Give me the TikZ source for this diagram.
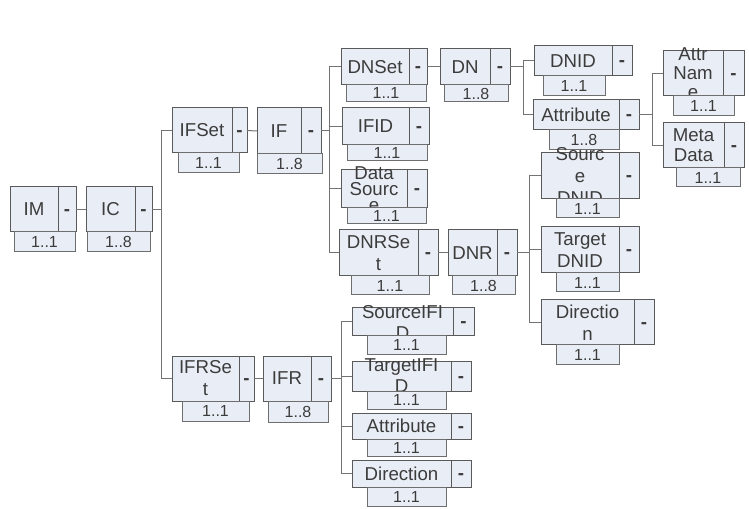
\documentclass[tikz,border=0pt]{standalone}
\usepackage{fontspec}
\setmainfont{Liberation Sans}
\definecolor{boxfill}{RGB}{233,238,246}
\definecolor{boxline}{RGB}{90,90,90}
\definecolor{multline}{RGB}{110,110,110}
\definecolor{txt}{RGB}{60,60,60}
\definecolor{linegray}{RGB}{115,115,115}
\tikzset{
  mainbox/.style={rectangle, draw=boxline, fill=boxfill, line width=0.75pt, inner sep=0pt, outer sep=0pt, anchor=north west},
  minusbox/.style={rectangle, draw=boxline, fill=boxfill, line width=0.75pt, inner sep=0pt, outer sep=0pt, anchor=north west, text=txt, font=\fontsize{14}{16}\selectfont\bfseries, text height=9pt, text depth=0pt},
  lbl/.style={inner sep=0pt, align=center, text=txt, font=\fontsize{14}{16.5}\selectfont},
  multbox/.style={rectangle, draw=multline, fill=boxfill, line width=0.75pt, inner sep=0pt, outer sep=0pt, anchor=north west, text=txt, font=\fontsize{12}{14}\selectfont},
  conn/.style={draw=linegray, line width=0.75pt}
}
% #1 name, #2 x, #3 y, #4 main width, #5 minus width, #6 height, #7 mult x, #8 mult width, #9 mult height
\newcommand\elem[9]{%
  \node[mainbox, minimum width=#4*0.75pt, minimum height=#6*0.75pt] (#1) at (#2,#3) {};
  \node[minusbox, minimum width=#5*0.75pt, minimum height=#6*0.75pt] (#1m) at (#1.north east) {-};
  \coordinate (#1cp) at (#7,#3+#6);
  \def\elemmw{#8}\def\elemmh{#9}\def\elemname{#1}%
  \elemfinish}
\newcommand\elemfinish[3][]{%
  \node[lbl,#1] (\elemname t) at (\elemname.center) {#2};
  \node[multbox, minimum width=\elemmw*0.75pt, minimum height=\elemmh*0.75pt] (\elemname c) at (\elemname cp) {#3};}
\begin{document}
\begin{tikzpicture}[x=0.75pt, y=-0.75pt]
\fill[white] (0,0) rectangle (749,509);
\useasboundingbox (0,0) rectangle (749,509);

\elem{IM}{10}{187}{48}{18}{45}{14}{61}{20}{IM}{1..1}
\elem{IC}{86}{187}{49}{17}{45}{87}{63}{20}{IC}{1..8}
\elem{IFSet}{172}{108}{60}{15}{45}{178}{61}{20}{IFSet}{1..1}
\elem{IF}{257}{108}{44}{20}{46}{257}{65}{20}{IF}{1..8}
\elem{IFRSet}{172}{356}{67}{15}{45}{182}{67}{20}{IFRSe\\t}{1..1}
\elem{IFR}{263}{356}{48}{20}{45}{268}{60}{21}{IFR}{1..8}
\elem{DNSet}{341}{49}{68}{18}{36}{346}{80}{17}{DNSet}{1..1}
\elem{IFID}{342}{108}{67}{20}{37}{347}{80}{16}{IFID}{1..1}
\elem{DataSource}{341}{170}{66}{20}{38}{347}{79}{16}[font=\fontsize{14}{12}\selectfont]{Data\\Sourc\\e}{1..1}
\elem{DNRSet}{339}{230}{79}{20}{46}{351}{78}{19}{DNRSe\\t}{1..1}
\elem{DN}{440}{49}{50}{20}{36}{444}{64}{17}{DN}{1..8}
\elem{DNR}{448}{230}{49}{20}{46}{452}{63}{19}{DNR}{1..8}
\elem{DNID}{534}{46}{78}{20}{30}{543}{62}{20}{DNID}{1..1}
\elem{AttrDN}{533}{100}{86}{20}{30}{549}{70}{20}{Attribute}{1..8}
\elem{AttrName}{663}{51}{60}{21}{45}{673}{61}{20}[font=\fontsize{14}{14.25}\selectfont]{Attr\\Nam\\e}{1..1}
\elem{MetaData}{663}{123}{61}{20}{45}{676}{64}{19}[font=\fontsize{14}{15}\selectfont]{Meta\\Data}{1..1}
\elem{SourceDNID}{541}{153}{78}{20}{46}{556}{63}{19}{Sourc\\e\\DNID}{1..1}
\elem{TargetDNID}{541}{227}{78}{20}{46}{556}{63}{19}{Target\\DNID}{1..1}
\elem{DirDNR}{541}{300}{93}{20}{45}{556}{63}{19}{Directio\\n}{1..1}
\elem{SourceIFID}{352}{308}{101}{21}{28}{367}{79}{18}[font=\fontsize{14}{15.75}\selectfont]{SourceIFI\\D}{1..1}
\elem{TargetIFID}{352}{361}{99}{20}{30}{367}{79}{18}[font=\fontsize{14}{15.75}\selectfont]{TargetIFI\\D}{1..1}
\elem{AttrIFR}{352}{413}{99}{20}{26}{367}{79}{17}{Attribute}{1..1}
\elem{DirIFR}{352}{460}{99}{20}{27}{367}{79}{19}{Direction}{1..1}

% connectors
\draw[conn] (IMm.east) -- (IC.west);
\draw[conn] (ICm.east) -- ++(9,0) |- (IFSet.west);
\draw[conn] (ICm.east) -- ++(9,0) |- (IFRSet.west);
\draw[conn] (IFSetm.east) -- (IF.west);
\draw[conn] (IFm.east) -- ++(8,0) |- (DNSet.west);
\draw[conn] (IFm.east) -- ++(8,0) |- (IFID.west);
\draw[conn] (IFm.east) -- ++(8,0) |- (DataSource.west);
\draw[conn] (IFm.east) -- ++(8,0) |- (DNRSet.west);
\draw[conn] (DNSetm.east) -- (DN.west);
\draw[conn] (DNm.east) -- ++(13,0) |- (DNID.west);
\draw[conn] (DNm.east) -- ++(13,0) |- (AttrDN.west);
\draw[conn] (AttrDNm.east) -- ++(13,0) |- (AttrName.west);
\draw[conn] (AttrDNm.east) -- ++(13,0) |- (MetaData.west);
\draw[conn] (DNRSetm.east) -- (DNR.west);
\draw[conn] (DNRm.east) -- ++(12,0) |- (SourceDNID.west);
\draw[conn] (DNRm.east) -- ++(12,0) |- (TargetDNID.west);
\draw[conn] (DNRm.east) -- ++(12,0) |- (DirDNR.west);
\draw[conn] (IFRSetm.east) -- (IFR.west);
\draw[conn] (IFRm.east) -- ++(10,0) |- (SourceIFID.west);
\draw[conn] (IFRm.east) -- ++(10,0) |- (TargetIFID.west);
\draw[conn] (IFRm.east) -- ++(10,0) |- (AttrIFR.west);
\draw[conn] (IFRm.east) -- ++(10,0) |- (DirIFR.west);
\end{tikzpicture}
\end{document}
